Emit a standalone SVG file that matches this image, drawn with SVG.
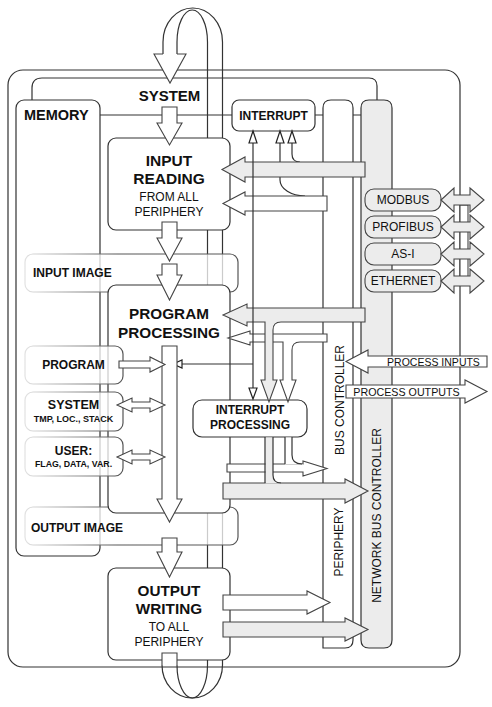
<svg xmlns="http://www.w3.org/2000/svg" width="492" height="707" viewBox="0 0 492 707">
<defs>
<linearGradient id="fade" gradientUnits="userSpaceOnUse" x1="25" y1="0" x2="118" y2="0">
<stop offset="0" stop-color="#e2e2e2"/><stop offset="1" stop-color="#555"/>
</linearGradient>
<style>
.ln{fill:none;stroke:#333;stroke-width:1.2}
.box{fill:#fff;stroke:#333;stroke-width:1.2}
.w{fill:#fff;stroke:#444;stroke-width:1.1;stroke-linejoin:miter}
.g{fill:#ececec;stroke:#444;stroke-width:1.1}
.row{fill:#fff;fill-opacity:0.75;stroke:url(#fade);stroke-width:1.2}
.tri{fill:#fff;stroke:#222;stroke-width:1.2}
text{font-family:"Liberation Sans",Arial,sans-serif;fill:#111}
.b{font-weight:bold}
.m{text-anchor:middle}
</style>
</defs>

<g id="frames">
<rect x="8" y="70" width="452" height="597" rx="15" class="ln"/>
<path d="M32,110 L32,88 Q32,78 42,78 L369,78 Q377,78 377,86 L377,102" class="ln"/>
</g>

<g id="connectors">
<!-- cycle band -->
<path d="M207.5,42 L207.5,665 M222.5,42 L222.5,665" class="ln"/>
<path d="M163,54 L163,42 A29.75,34 0 0 1 222.5,42" class="ln"/>
<path d="M177,54 L177,42 A15.25,32 0 0 1 207.5,42" class="ln"/>
<path d="M162,665 A30.25,33 0 0 0 222.5,665" class="ln"/>
<path d="M177,665 A15.25,33 0 0 0 207.5,665" class="ln"/>
<!-- bus line -->
<path d="M100,115 L361,115" class="ln"/>
</g>

<g id="memory">
<rect x="16" y="100" width="84" height="456" rx="8" class="box"/>
</g>

<g id="interrupt">
<rect x="232" y="100" width="83" height="31" rx="7" class="box"/>
</g>

<g id="periphery">
<path d="M323,648 L323,108 Q323,100 331,100 L345,100 Q353,100 353,108 L353,640 Q353,648 345,648 Z" fill="#fff" stroke="#333" stroke-width="1.2"/>
</g>
<g id="network-bus-controller">
<path d="M361,640 L361,108 Q361,100 369,100 L384,100 Q392,100 392,108 L392,640 Q392,648 384,648 L369,648 Q361,648 361,640 Z" fill="#ececec" stroke="#333" stroke-width="1.2"/>
</g>

<g id="interrupt-lines-under">
<path d="M280,143 L280,180 A25,16 0 0 0 305,196" class="ln"/>
<path d="M292,143 L292,154 Q292,162 300,162" class="ln"/>
</g>

<g id="input-reading">
<rect x="108" y="138" width="122" height="92" rx="8" class="box"/>
</g>

<g id="input-image">
<rect x="25" y="254" width="213" height="38" rx="8" class="row"/>
</g>
<g id="output-image">
<rect x="25" y="507" width="213" height="38" rx="8" class="row"/>
</g>

<g id="program-processing">
<rect x="108" y="285" width="122" height="228" rx="8" class="box"/>
</g>

<g id="mem-program"><rect x="25" y="346" width="98" height="38" rx="8" class="row"/></g>
<g id="mem-system"><rect x="25" y="392" width="98" height="39" rx="8" class="row"/></g>
<g id="mem-user"><rect x="25" y="437" width="98" height="39" rx="8" class="row"/></g>

<g id="output-writing">
<rect x="108" y="568" width="122" height="92" rx="8" class="box"/>
</g>

<g id="interrupt-processing">
<rect x="193" y="400" width="114" height="37" rx="9" class="box"/>
</g>

<g id="arrows">
<path d="M365,162 L245,162 L245,157 L222,169.5 L245,182 L245,177 L365,177 Z" class="g"/>
<path d="M327,196 L245,196 L245,192 L223,203.5 L245,215 L245,211 L327,211 Z" class="w"/>
<path d="M327,334 L250,334 L250,331 L228,338 L250,345 L250,342 L283,342 L283,380 L280,380 L288,402 L296,380 L292,380 L292,350 Q292,342 300,342 L327,342 Z" class="w"/>
<path d="M365,308 L247,308 L247,304 L223,315 L247,326 L247,322 L265,322 L265,380 L261,380 L269,402 L277,380 L273,380 L273,330 Q273,322 281,322 L365,322 Z" class="g"/>
<path d="M227,464 L303,464 L303,461 L327,468.5 L303,476 L303,472 L227,472 Z" class="w"/>
<path d="M223,483 L345,483 L345,479 L368,491 L345,503 L345,499 L223,499 Z" class="g"/>
<!-- pipes from interrupt processing -->
<path d="M285,437.6 L285,464.6 L303,464.6 L303,464 Q292,464 292,455 L292,437.6 Z" fill="#fff"/>
<path d="M285,437 L285,464 M292,437 L292,455 Q292,464 302,464" class="ln" stroke="#444"/>
<path d="M265.5,437.6 L265.5,483.6 L281,483.6 L281,483 Q273,483 273,475 L273,437.6 Z" fill="#ececec"/>
<path d="M265,437 L265,483 M273,437 L273,475 Q273,483 281,483" class="ln" stroke="#444"/>
<!-- output writing arrows -->
<path d="M223,595 L307,595 L307,591 L330,602.5 L307,614 L307,610 L223,610 Z" class="w"/>
<path d="M223,622 L345,622 L345,618 L368,629.5 L345,641 L345,637 L223,637 Z" class="g"/>
<!-- process inputs / outputs -->
<path d="M487,356 L368,356 L368,350 L346,361.5 L368,373 L368,367 L487,367 Z" class="w"/>
<path d="M346,385 L465,385 L465,380 L487,391.5 L465,403 L465,398 L346,398 Z" class="w"/>
</g>

<g id="interrupt-signals">
<path d="M253,131 L253,398 M253,364 L180,364" class="ln" stroke="#222"/>
<path d="M253,131 L249,143 L257,143 Z M280,131 L276,143 L284,143 Z M292,131 L288,143 L296,143 Z" class="tri"/>
<path d="M253,399 L249,388 L257,388 Z" class="tri"/>
<path d="M173,364 L182,360 L182,368 Z" class="tri"/>
</g>

<g id="flow-arrows">
<path d="M163,54 L154,54 L170,83 L186,54 L177,54" class="w"/>
<path d="M162,665 L162,653 L177,653 L177,665" class="w"/>
<path d="M162,107 L177,107 L177,123 L182,123 L169.5,145 L157,123 L162,123 Z" class="w"/>
<path d="M162,222 L177,222 L177,238 L182,238 L169.5,261 L157,238 L162,238 Z" class="w"/>
<path d="M162,264 L177,264 L177,275 L182,275 L169.5,300 L157,275 L162,275 Z" class="w"/>
<path d="M162,346 L177,346 L177,499 L182,499 L169.5,522 L157,499 L162,499 Z" class="w" stroke-width="1.5" stroke="#222"/>
<path d="M162,538 L177,538 L177,552 L182,552 L169.5,577 L157,552 L162,552 Z" class="w"/>
<path d="M119,361 L150,361 L150,357 L165,364.5 L150,372 L150,368 L119,368 Z" class="w"/>
<path d="M117,405 L132,398 L132,402 L150,402 L150,398 L165,405 L150,412 L150,408 L132,408 L132,412 Z" class="w"/>
<path d="M117,457 L132,450 L132,454 L150,454 L150,450 L165,457 L150,464 L150,460 L132,460 L132,464 Z" class="w"/>
</g>

<g id="networks">
<rect x="460" y="205" width="8" height="78" fill="#fff" stroke="#444" stroke-width="1.1"/>
<rect x="365" y="189" width="76" height="22" rx="9" class="g"/>
<rect x="365" y="216" width="76" height="22" rx="9" class="g"/>
<rect x="365" y="243" width="76" height="22" rx="9" class="g"/>
<rect x="365" y="270" width="76" height="22" rx="9" class="g"/>
<path d="M441,200 L454,188 L454,195 L470,195 L470,188 L484,200 L470,212 L470,205 L454,205 L454,212 Z" class="g"/>
<path d="M441,227 L454,215 L454,222 L470,222 L470,215 L484,227 L470,239 L470,232 L454,232 L454,239 Z" class="g"/>
<path d="M441,254 L454,242 L454,249 L470,249 L470,242 L484,254 L470,266 L470,259 L454,259 L454,266 Z" class="g"/>
<path d="M441,281 L454,269 L454,276 L470,276 L470,269 L484,281 L470,293 L470,286 L454,286 L454,293 Z" class="g"/>
</g>

<g id="labels">
<text x="169.5" y="101" class="b m" font-size="15">SYSTEM</text>
<text x="24" y="120" class="b" font-size="14.5">MEMORY</text>
<text x="273.5" y="119.5" class="b m" font-size="12">INTERRUPT</text>
<text x="169" y="166" class="b m" font-size="15.5">INPUT</text>
<text x="169" y="184" class="b m" font-size="15.5">READING</text>
<text x="169" y="201" class="m" font-size="12">FROM ALL</text>
<text x="169" y="216" class="m" font-size="12">PERIPHERY</text>
<text x="33" y="277" class="b" font-size="12">INPUT IMAGE</text>
<text x="169" y="319" class="b m" font-size="15.3">PROGRAM</text>
<text x="169" y="338" class="b m" font-size="15.3">PROCESSING</text>
<text x="73.5" y="369" class="b m" font-size="12">PROGRAM</text>
<text x="73.5" y="409" class="b m" font-size="12.5">SYSTEM</text>
<text x="73.5" y="422" class="b m" font-size="9">TMP, LOC., STACK</text>
<text x="73.5" y="455" class="b m" font-size="12">USER:</text>
<text x="73.5" y="467" class="b m" font-size="8.8">FLAG, DATA, VAR.</text>
<text x="31" y="532" class="b" font-size="12">OUTPUT IMAGE</text>
<text x="250" y="414" class="b m" font-size="12">INTERRUPT</text>
<text x="250" y="429" class="b m" font-size="12">PROCESSING</text>
<text x="169" y="596" class="b m" font-size="15.3">OUTPUT</text>
<text x="169" y="614" class="b m" font-size="15.3">WRITING</text>
<text x="169" y="631" class="m" font-size="12">TO ALL</text>
<text x="169" y="646" class="m" font-size="12">PERIPHERY</text>
<text x="433.5" y="365.5" class="m" font-size="10.5">PROCESS INPUTS</text>
<text x="406.5" y="395.5" class="m" font-size="10.7">PROCESS OUTPUTS</text>
<text transform="translate(343.5,400) rotate(-90)" class="m" font-size="12">BUS CONTROLLER</text>
<text transform="translate(343,542) rotate(-90)" class="m" font-size="12">PERIPHERY</text>
<text transform="translate(381,515.5) rotate(-90)" class="m" font-size="12">NETWORK BUS CONTROLLER</text>
<text x="403" y="204.3" class="m" font-size="12">MODBUS</text>
<text x="403" y="231.3" class="m" font-size="12">PROFIBUS</text>
<text x="403" y="258.3" class="m" font-size="12">AS-I</text>
<text x="403" y="285.3" class="m" font-size="12">ETHERNET</text>
</g>
</svg>
